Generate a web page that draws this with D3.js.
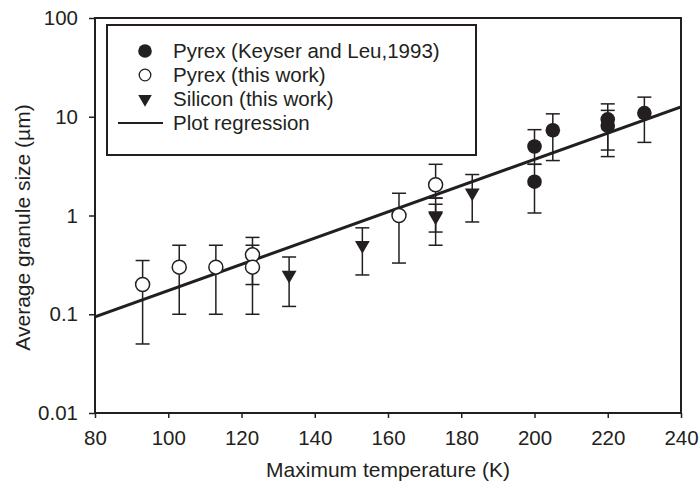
<!DOCTYPE html>
<meta charset="utf-8">
<html>
<head>
<script src="https://d3js.org/d3.v7.min.js"></script>
<style>
  body { margin: 0; background: #fff; }
  text { font-family: "Liberation Sans", Arial, sans-serif; fill: #231f20; }
</style>
</head>
<body>
<div id="chart"></div>
<script>
// Pyrex (Keyser and Leu, 1993) - filled circles
var keyserT  = [200, 200, 205, 220, 220, 230];
var keyserV  = [5.0, 2.2, 7.3, 9.4, 8.1, 10.9];
var keyserLo = [3.3, 1.06, 3.6, 4.6, 3.95, 5.5];
var keyserHi = [7.4, 3.3, 10.7, 13.5, 11.6, 15.8];

// Pyrex (this work) - open circles
var pyrexT  = [93, 103, 113, 123, 123, 163, 173];
var pyrexV  = [0.2, 0.3, 0.3, 0.4, 0.3, 1.0, 2.05];
var pyrexLo = [0.05, 0.1, 0.1, 0.2, 0.1, 0.33, 1.5];
var pyrexHi = [0.35, 0.5, 0.5, 0.6, 0.5, 1.68, 3.3];

// Silicon (this work) - down triangles
var siliconT  = [133, 153, 173, 173, 183];
var siliconV  = [0.25, 0.5, 1.0, 0.97, 1.7];
var siliconLo = [0.12, 0.25, 0.5, 0.68, 0.86];
var siliconHi = [0.38, 0.75, 1.5, 1.3, 2.6];

// regression line end points
var regT = [80, 240];
var regV = [0.094, 12.6];

var xTicks = [80, 100, 120, 140, 160, 180, 200, 220, 240];
var yTicks = [0.01, 0.1, 1, 10, 100];
var legendLabels = ["Pyrex (Keyser and Leu,1993)", "Pyrex (this work)", "Silicon (this work)", "Plot regression"];

var W = 699, H = 485;
var margin = {top: 18, right: 18, bottom: 72, left: 95};
var width = W - margin.left - margin.right,
    height = H - margin.top - margin.bottom;
var ink = "#231f20";

var svg = d3.select("#chart").append("svg")
    .attr("width", W).attr("height", H)
  .append("g")
    .attr("transform", "translate(" + margin.left + "," + margin.top + ")");

var x = d3.scaleLinear().domain([80, 240]).range([0, width]);
var y = d3.scaleLog().domain([0.01, 100]).range([height, 0]);

// frame
svg.append("rect")
  .attr("width", width).attr("height", height)
  .attr("fill", "none").attr("stroke", ink).attr("stroke-width", 2);

var fmt = function(d) { return d >= 1 ? d3.format("d")(d) : String(d); };

var xAxis = svg.append("g")
  .attr("transform", "translate(0," + height + ")")
  .call(d3.axisBottom(x).tickValues(xTicks).tickSize(5).tickPadding(12));
var yAxis = svg.append("g")
  .call(d3.axisLeft(y).tickValues(yTicks).tickFormat(fmt).tickSize(6).tickPadding(11));
[xAxis, yAxis].forEach(function(a) {
  a.select(".domain").remove();
  a.selectAll("line").attr("stroke", ink).attr("stroke-width", 1.5);
  a.selectAll("text").style("font-size", "20.5px").attr("fill", ink)
    .style("font-family", "'Liberation Sans', Arial, sans-serif");
});

// axis titles
svg.append("text")
  .attr("x", width / 2).attr("y", height + 64)
  .attr("text-anchor", "middle").style("font-size", "21px")
  .text("Maximum temperature (K)");
svg.append("text")
  .attr("transform", "translate(" + (-65) + "," + (height / 2 + 12) + ") rotate(-90)")
  .attr("text-anchor", "middle").style("font-size", "21px")
  .text("Average granule size (\u00b5m)");

// clip for regression
svg.append("clipPath").attr("id", "clip")
  .append("rect").attr("width", width).attr("height", height);

// error bars
function errorBars(T, lo, hi) {
  var g = svg.append("g").attr("stroke", ink).attr("stroke-width", 1.5);
  T.forEach(function(t, i) {
    g.append("line").attr("x1", x(t)).attr("x2", x(t))
      .attr("y1", y(lo[i])).attr("y2", y(hi[i]));
    [lo[i], hi[i]].forEach(function(v) {
      g.append("line").attr("x1", x(t) - 7).attr("x2", x(t) + 7)
        .attr("y1", y(v)).attr("y2", y(v));
    });
  });
}
errorBars(pyrexT, pyrexLo, pyrexHi);
errorBars(siliconT, siliconLo, siliconHi);
errorBars(keyserT, keyserLo, keyserHi);

// regression line
svg.append("path")
  .datum(regT.map(function(t, i) { return [t, regV[i]]; }))
  .attr("clip-path", "url(#clip)")
  .attr("fill", "none").attr("stroke", ink).attr("stroke-width", 3)
  .attr("d", d3.line().x(function(d) { return x(d[0]); }).y(function(d) { return y(d[1]); }));

var tri = d3.symbol().type(d3.symbolTriangle).size(95);

// markers
svg.selectAll(".pyrex").data(pyrexT).enter().append("circle")
  .attr("cx", function(d) { return x(d); })
  .attr("cy", function(d, i) { return y(pyrexV[i]); })
  .attr("r", 7).attr("fill", "#fff").attr("stroke", ink).attr("stroke-width", 1.5);
svg.selectAll(".si").data(siliconT).enter().append("path")
  .attr("d", tri)
  .attr("transform", function(d, i) { return "translate(" + x(d) + "," + y(siliconV[i]) + ") rotate(180)"; })
  .attr("fill", ink);
svg.selectAll(".keyser").data(keyserT).enter().append("circle")
  .attr("cx", function(d) { return x(d); })
  .attr("cy", function(d, i) { return y(keyserV[i]); })
  .attr("r", 7.3).attr("fill", ink);

// legend
var lg = svg.append("g").attr("transform", "translate(12,7)");
lg.append("rect").attr("width", 369).attr("height", 130)
  .attr("fill", "#fff").attr("stroke", ink).attr("stroke-width", 2);
var rowY = [26, 50, 74, 98];
lg.append("circle").attr("cx", 38).attr("cy", rowY[0]).attr("r", 6.8).attr("fill", ink);
lg.append("circle").attr("cx", 38).attr("cy", rowY[1]).attr("r", 5.8)
  .attr("fill", "#fff").attr("stroke", ink).attr("stroke-width", 1.3);
lg.append("path").attr("d", d3.symbol().type(d3.symbolTriangle).size(80))
  .attr("transform", "translate(38," + rowY[2] + ") rotate(180)").attr("fill", ink);
lg.append("line").attr("x1", 11).attr("x2", 56).attr("y1", rowY[3]).attr("y2", rowY[3])
  .attr("stroke", ink).attr("stroke-width", 2);
lg.selectAll(".lt").data(legendLabels).enter().append("text")
  .attr("x", 66).attr("y", function(d, i) { return rowY[i]; })
  .attr("dy", "0.35em").style("font-size", "20.5px")
  .text(function(d) { return d; });
</script>
</body>
</html>
